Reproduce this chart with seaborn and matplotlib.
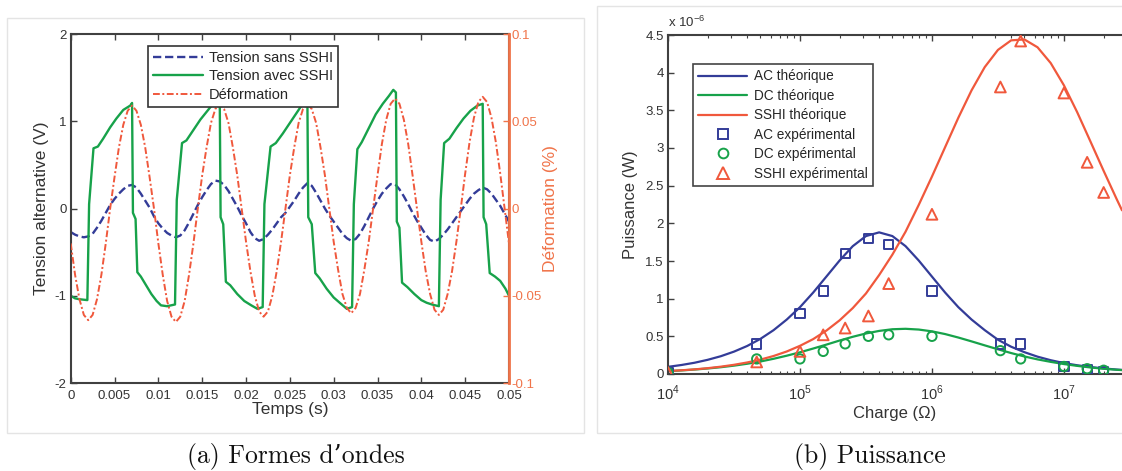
import numpy as np
import pandas as pd
import matplotlib
matplotlib.use("Agg")
import matplotlib.pyplot as plt
import seaborn as sns
from matplotlib.patches import Rectangle
from matplotlib.lines import Line2D

# ---------------- data : panel (a) ----------------
time_s = np.round(np.arange(101) * 0.0005, 4)

tension_sans_sshi = [
    -0.27, -0.30, -0.32, -0.33, -0.32, -0.29, -0.22, -0.14, -0.05, 0.04,
    0.11, 0.17, 0.22, 0.26, 0.27, 0.24, 0.17, 0.09, 0.01, -0.09,
    -0.17, -0.23, -0.28, -0.31, -0.33, -0.31, -0.25, -0.16, -0.06, 0.04,
    0.13, 0.21, 0.28, 0.32, 0.31, 0.27, 0.20, 0.11, 0.02, -0.08,
    -0.17, -0.27, -0.34, -0.37, -0.35, -0.30, -0.24, -0.17, -0.10, -0.05,
    0.02, 0.09, 0.17, 0.24, 0.29, 0.26, 0.18, 0.09, 0.00, -0.08,
    -0.15, -0.22, -0.29, -0.34, -0.37, -0.35, -0.29, -0.20, -0.10, 0.00,
    0.09, 0.17, 0.23, 0.28, 0.28, 0.22, 0.14, 0.05, -0.05, -0.14,
    -0.22, -0.30, -0.36, -0.38, -0.35, -0.30, -0.24, -0.17, -0.10, -0.03,
    0.04, 0.11, 0.17, 0.21, 0.24, 0.22, 0.17, 0.10, 0.03, -0.06,
    -0.15,
]

deformation_pct = [
    -0.020, -0.038, -0.052, -0.061, -0.064, -0.061, -0.052, -0.038, -0.020, 0.000,
    0.018, 0.035, 0.048, 0.056, 0.059, 0.056, 0.048, 0.035, 0.018, 0.000,
    -0.020, -0.038, -0.053, -0.062, -0.065, -0.062, -0.053, -0.038, -0.020, 0.000,
    0.019, 0.035, 0.049, 0.057, 0.060, 0.057, 0.049, 0.035, 0.019, 0.000,
    -0.019, -0.036, -0.050, -0.059, -0.062, -0.059, -0.050, -0.036, -0.019, 0.000,
    0.019, 0.035, 0.049, 0.057, 0.060, 0.057, 0.049, 0.035, 0.019, 0.000,
    -0.019, -0.035, -0.049, -0.057, -0.060, -0.057, -0.049, -0.035, -0.019, 0.000,
    0.019, 0.037, 0.051, 0.060, 0.063, 0.060, 0.051, 0.037, 0.019, 0.000,
    -0.019, -0.036, -0.049, -0.058, -0.061, -0.058, -0.049, -0.036, -0.019, 0.000,
    0.020, 0.038, 0.052, 0.061, 0.064, 0.061, 0.052, 0.038, 0.020, 0.000,
    -0.020,
]

sshi_time_s = [
    0.0000, 0.0005, 0.0010, 0.0019, 0.0021, 0.0026, 0.0031, 0.0037, 0.0045, 0.0052,
    0.0060, 0.0068, 0.0070, 0.0071, 0.0074, 0.0076, 0.0080, 0.0086, 0.0092, 0.0098,
    0.0103, 0.0110, 0.0119,
    0.0121, 0.0127, 0.0132, 0.0140, 0.0148, 0.0156, 0.0164, 0.0170, 0.0171, 0.0174,
    0.0177, 0.0182, 0.0190, 0.0198, 0.0206, 0.0213, 0.0219,
    0.0221, 0.0228, 0.0234, 0.0242, 0.0250, 0.0258, 0.0264, 0.0270, 0.0271, 0.0275,
    0.0279, 0.0284, 0.0292, 0.0300, 0.0308, 0.0315, 0.0321,
    0.0323, 0.0327, 0.0332, 0.0340, 0.0348, 0.0356, 0.0363, 0.0368, 0.0371, 0.0372,
    0.0375, 0.0378, 0.0384, 0.0392, 0.0400, 0.0406, 0.0412, 0.0420,
    0.0422, 0.0426, 0.0432, 0.0440, 0.0448, 0.0456, 0.0464, 0.0470, 0.0471, 0.0474,
    0.0478, 0.0484, 0.0490, 0.0496, 0.0500,
]
tension_avec_sshi = [
    -1.00, -1.03, -1.04, -1.05, 0.05, 0.69, 0.71, 0.80, 0.93, 1.03,
    1.13, 1.18, 1.21, -0.05, -0.12, -0.73, -0.78, -0.88, -0.98, -1.06,
    -1.11, -1.12, -1.10,
    0.10, 0.75, 0.78, 0.90, 1.02, 1.12, 1.22, 1.28, -0.10, -0.18,
    -0.84, -0.88, -0.98, -1.06, -1.11, -1.15, -1.13,
    0.05, 0.71, 0.75, 0.86, 0.98, 1.10, 1.19, 1.25, -0.10, -0.18,
    -0.74, -0.80, -0.92, -1.02, -1.09, -1.15, -1.13,
    0.05, 0.68, 0.76, 0.92, 1.08, 1.20, 1.29, 1.36, 1.33, -0.15,
    -0.22, -0.85, -0.90, -0.98, -1.05, -1.08, -1.10, -1.12,
    0.10, 0.75, 0.80, 0.92, 1.03, 1.12, 1.18, 1.20, -0.10, -0.18,
    -0.74, -0.78, -0.83, -0.92, -1.00,
]

time_ticks = [0, 0.005, 0.01, 0.015, 0.02, 0.025, 0.03, 0.035, 0.04, 0.045, 0.05]
time_tick_labels = ["0", "0.005", "0.01", "0.015", "0.02", "0.025", "0.03",
                    "0.035", "0.04", "0.045", "0.05"]
volt_ticks = [-2, -1, 0, 1, 2]
volt_tick_labels = ["-2", "-1", "0", "1", "2"]
deform_ticks = [-0.1, -0.05, 0, 0.05, 0.1]
deform_tick_labels = ["-0.1", "-0.05", "0", "0.05", "0.1"]

# ---------------- data : panel (b) ----------------
theo_log10_R = [4.0, 4.1, 4.2, 4.3, 4.4, 4.5, 4.6, 4.7, 4.8, 4.9,
                5.0, 5.1, 5.2, 5.3, 5.4, 5.5, 5.6, 5.7, 5.8, 5.9,
                6.0, 6.1, 6.2, 6.3, 6.4, 6.5, 6.6, 6.7, 6.8, 6.9,
                7.0, 7.1, 7.2, 7.3, 7.4, 7.44]
ac_theo = [0.095, 0.119, 0.149, 0.188, 0.236, 0.297, 0.372, 0.466, 0.582, 0.723,
           0.887, 1.081, 1.293, 1.506, 1.697, 1.831, 1.880, 1.831, 1.697, 1.506,
           1.293, 1.081, 0.887, 0.723, 0.582, 0.455, 0.362, 0.290, 0.230, 0.183,
           0.145, 0.116, 0.093, 0.074, 0.059, 0.054]
dc_theo = [0.038, 0.047, 0.059, 0.073, 0.090, 0.111, 0.136, 0.166, 0.202, 0.243,
           0.288, 0.338, 0.390, 0.444, 0.494, 0.538, 0.572, 0.594, 0.600, 0.590,
           0.566, 0.530, 0.484, 0.433, 0.380, 0.328, 0.278, 0.233, 0.194, 0.161,
           0.132, 0.108, 0.087, 0.070, 0.056, 0.052]
sshi_theo = [0.039, 0.049, 0.061, 0.077, 0.097, 0.122, 0.153, 0.191, 0.239, 0.299,
             0.374, 0.463, 0.576, 0.712, 0.875, 1.069, 1.314, 1.584, 1.889, 2.245,
             2.621, 3.012, 3.402, 3.765, 4.074, 4.302, 4.429, 4.441, 4.337, 4.127,
             3.832, 3.477, 3.090, 2.700, 2.320, 2.173]

exp_R = [1e4, 4.7e4, 1e5, 1.5e5, 2.2e5, 3.3e5, 4.7e5, 1e6, 3.3e6, 4.7e6, 1e7, 1.5e7, 2.0e7]
ac_exp = [0.02, 0.40, 0.80, 1.10, 1.60, 1.80, 1.72, 1.10, 0.40, 0.40, 0.10, 0.06, 0.03]
dc_exp = [0.02, 0.20, 0.20, 0.30, 0.40, 0.50, 0.52, 0.50, 0.31, 0.20, 0.10, 0.07, 0.05]
sshi_exp = [0.02, 0.16, 0.30, 0.52, 0.61, 0.77, 1.20, 2.12, 3.81, 4.42, 3.73, 2.81, 2.41]

power_ticks = [0, 0.5, 1, 1.5, 2, 2.5, 3, 3.5, 4, 4.5]
power_tick_labels = ["0", "0.5", "1", "1.5", "2", "2.5", "3", "3.5", "4", "4.5"]
charge_ticks = [1e4, 1e5, 1e6, 1e7]
charge_tick_labels = [r"10$^{4}$", r"10$^{5}$", r"10$^{6}$", r"10$^{7}$"]

# ---------------- style ----------------
sns.set_theme(style="ticks")
plt.rcParams["font.family"] = ["Liberation Sans", "DejaVu Sans"]
plt.rcParams["mathtext.fontset"] = "custom"
plt.rcParams["mathtext.rm"] = "Liberation Sans"
plt.rcParams["axes.unicode_minus"] = False

BLUE = "#333c98"
GREEN = "#17a24a"
RED = "#f0583c"
ORANGE = "#f0744a"
AX_COL = "#404040"
TXT = "#333333"

fig = plt.figure(figsize=(11.22, 4.71), dpi=100)
W, H = 1122.0, 471.0

# light frames around the sub-figures
fig.patches.append(Rectangle((7 / W, 1 - 433 / H), (584 - 7) / W, (433 - 18) / H,
                             transform=fig.transFigure, fill=False,
                             edgecolor="#e4e4e4", linewidth=1.0))
fig.patches.append(Rectangle((597 / W, 1 - 433 / H), (1130 - 597) / W, (433 - 6) / H,
                             transform=fig.transFigure, fill=False,
                             edgecolor="#e4e4e4", linewidth=1.0))

# ================= panel (a) =================
axa = fig.add_axes([70.7 / W, 1 - 383 / H, (509 - 70.7) / W, (383 - 34) / H])
axb = axa.twinx()

sns.lineplot(x=time_s, y=tension_sans_sshi, ax=axa, color=BLUE, linewidth=1.7,
             estimator=None, sort=False)
axa.lines[-1].set_dashes((3.5, 1.6))
sns.lineplot(x=sshi_time_s, y=tension_avec_sshi, ax=axa, color=GREEN, linewidth=1.7,
             estimator=None, sort=False)
sns.lineplot(x=time_s, y=deformation_pct, ax=axb, color=RED, linewidth=1.4,
             estimator=None, sort=False)
axb.lines[-1].set_dashes((3.5, 1.3, 1.0, 1.3))

axa.set_xlim(0, 0.05)
axa.set_ylim(-2, 2)
axb.set_ylim(-0.1, 0.1)
axa.set_xticks(time_ticks)
axa.set_xticklabels(time_tick_labels)
axa.set_yticks(volt_ticks)
axa.set_yticklabels(volt_tick_labels)
axb.set_yticks(deform_ticks)
axb.set_yticklabels(deform_tick_labels)

axa.tick_params(axis="both", direction="in", length=4, width=1.0, colors=AX_COL,
                labelsize=9.5, labelcolor=TXT, top=True, right=False)
axa.tick_params(axis="x", pad=5)
axa.tick_params(axis="y", pad=3)
axb.tick_params(axis="y", direction="in", length=4, width=1.0, colors=ORANGE,
                labelsize=9.5, labelcolor=ORANGE, pad=2)
for name, sp in axa.spines.items():
    sp.set_color(AX_COL)
    sp.set_linewidth(1.5)
for name, sp in axb.spines.items():
    sp.set_visible(name == "right")
axb.spines["right"].set_color(ORANGE)
axb.spines["right"].set_linewidth(2.0)

axa.set_xlabel("Temps (s)", fontsize=12.5, color=TXT, labelpad=0)
axa.set_ylabel("Tension alternative (V)", fontsize=12.5, color=TXT, labelpad=4)
axb.set_ylabel("Déformation (%)", fontsize=12.5, color=ORANGE, labelpad=1)

handles_a = [Line2D([], [], color=BLUE, linewidth=1.7, dashes=(3.5, 1.6)),
             Line2D([], [], color=GREEN, linewidth=1.7),
             Line2D([], [], color=RED, linewidth=1.4, dashes=(3.5, 1.3, 1.0, 1.3))]
leg_a = axb.legend(handles_a, ["Tension sans SSHI", "Tension avec SSHI", "Déformation"],
                   loc="upper left", bbox_to_anchor=(148 / W, 1 - 46 / H),
                   bbox_transform=fig.transFigure, borderaxespad=0, fontsize=10.5,
                   handlelength=3.4, handletextpad=0.4, labelspacing=0.3,
                   borderpad=0.35, fancybox=False, framealpha=1, edgecolor="#333333")
leg_a.get_frame().set_linewidth(1.2)

# ================= panel (b) =================
axp = fig.add_axes([668 / W, 1 - 374 / H, (1122 - 668) / W, (374 - 35) / H])
theo_R = 10 ** np.array(theo_log10_R)

sns.lineplot(x=theo_R, y=ac_theo, ax=axp, color=BLUE, linewidth=1.6,
             estimator=None, sort=False)
sns.lineplot(x=theo_R, y=dc_theo, ax=axp, color=GREEN, linewidth=1.6,
             estimator=None, sort=False)
sns.lineplot(x=theo_R, y=sshi_theo, ax=axp, color=RED, linewidth=1.6,
             estimator=None, sort=False)

for vals, mk, col, sz in [(ac_exp, "s", BLUE, 45), (dc_exp, "o", GREEN, 45),
                          (sshi_exp, "^", RED, 60)]:
    sns.scatterplot(x=exp_R, y=vals, ax=axp, marker=mk, s=sz, color=col, zorder=5)
    coll = axp.collections[-1]
    coll.set_facecolor("none")
    coll.set_edgecolor(col)
    coll.set_linewidth(1.4)

axp.set_xscale("log")
axp.set_xlim(1e4, 10 ** 7.44)
axp.set_ylim(0, 4.5)
axp.set_yticks(power_ticks)
axp.set_yticklabels(power_tick_labels)
axp.set_xticks(charge_ticks)
axp.set_xticklabels(charge_tick_labels)
axp.tick_params(axis="both", which="major", direction="in", length=4, width=1.0,
                colors=AX_COL, labelsize=9.5, labelcolor=TXT, top=True)
axp.tick_params(axis="x", which="major", pad=7, labelsize=10.5)
axp.tick_params(axis="y", which="major", pad=3)
axp.tick_params(axis="x", which="minor", direction="in", length=2.5, width=0.8,
                colors=AX_COL, top=True)
for name, sp in axp.spines.items():
    sp.set_color(AX_COL)
    sp.set_linewidth(1.5)
axp.spines["right"].set_visible(False)

axp.set_xlabel("Charge (Ω)", fontsize=12, color=TXT, labelpad=2)
axp.set_ylabel("Puissance (W)", fontsize=12, color=TXT, labelpad=5)
axp.text(0.0, 1.015, r"x 10$^{-6}$", transform=axp.transAxes, fontsize=9.5,
         color=TXT, ha="left", va="bottom")

handles_b = [Line2D([], [], color=BLUE, linewidth=1.6),
             Line2D([], [], color=GREEN, linewidth=1.6),
             Line2D([], [], color=RED, linewidth=1.6),
             Line2D([], [], color=BLUE, marker="s", linestyle="none", markersize=7,
                    markerfacecolor="none", markeredgewidth=1.4),
             Line2D([], [], color=GREEN, marker="o", linestyle="none", markersize=7,
                    markerfacecolor="none", markeredgewidth=1.4),
             Line2D([], [], color=RED, marker="^", linestyle="none", markersize=8,
                    markerfacecolor="none", markeredgewidth=1.4)]
leg_b = axp.legend(handles_b, ["AC théorique", "DC théorique", "SSHI théorique",
                               "AC expérimental", "DC expérimental", "SSHI expérimental"],
                   loc="upper left", bbox_to_anchor=(693 / W, 1 - 64 / H),
                   bbox_transform=fig.transFigure, borderaxespad=0, fontsize=9.8,
                   handlelength=3.6, handletextpad=0.5, labelspacing=0.4,
                   borderpad=0.4, fancybox=False, framealpha=1, edgecolor="#444444")
leg_b.get_frame().set_linewidth(1.2)

# ================= captions =================
cap_font = ["cmr10", "DejaVu Serif"]
fig.text(296 / W, 1 - 457 / H, "(a) Formes d’ondes", ha="center", va="center",
         fontsize=18.5, family=cap_font, color="#111111")
fig.text(870 / W, 1 - 457 / H, "(b) Puissance", ha="center", va="center",
         fontsize=18.5, family=cap_font, color="#111111")

fig.savefig("out.png", dpi=100)
